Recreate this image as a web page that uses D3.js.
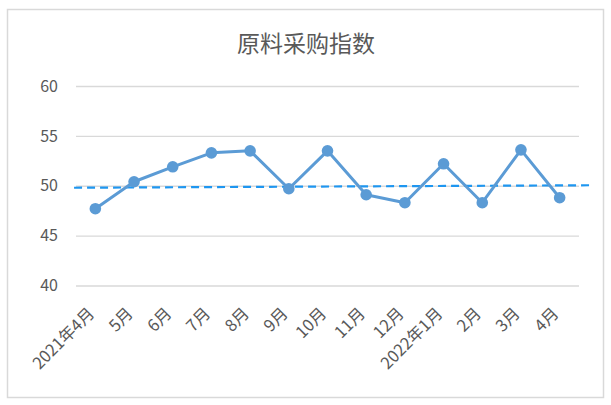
<!DOCTYPE html>
<html><head><meta charset="utf-8">
<script src="https://cdn.jsdelivr.net/npm/d3@7"></script>
<style>
html,body{margin:0;padding:0;background:#fff;}
svg text{font-family:"Noto Sans CJK SC","Noto Sans",sans-serif;fill:#595959;}
</style></head>
<body>
<svg id="c" width="611" height="405"></svg>
<script>
const title = "原料采购指数";
const categories = ["2021年4月","5月","6月","7月","8月","9月","10月","11月","12月","2022年1月","2月","3月","4月"];
const values = [47.7,50.4,51.9,53.3,53.5,49.7,53.5,49.1,48.3,52.2,48.3,53.6,48.8];
const yTicks = [40,45,50,55,60];
// dashed trend line: category-index position and value at each end
const trendIndex = [-0.55, 12.78];
const trendValue = [49.8, 50.05];

const svg = d3.select("#c");
const plot = {left:76, right:579, top:86, bottom:285.5};

svg.append("rect").attr("x",7.5).attr("y",9.5).attr("width",596).attr("height",388)
  .attr("fill","#fff").attr("stroke","#d9d9d9").attr("stroke-width",1.5);

svg.append("text").attr("x",306).attr("y",52).attr("text-anchor","middle")
  .style("font-size","23px").text(title);

const x = d3.scaleBand().domain(categories).range([plot.left, plot.right]);
const xi = d3.scaleLinear().domain([0, categories.length-1])
  .range([x(categories[0])+x.bandwidth()/2, x(categories[categories.length-1])+x.bandwidth()/2]);
const y = d3.scaleLinear().domain([40,60]).range([plot.bottom, plot.top]);

// gridlines
const yAxis = d3.axisLeft(y).tickValues(yTicks).tickSize(-(plot.right-plot.left)).tickPadding(18);
const gy = svg.append("g").attr("transform",`translate(${plot.left},0)`).call(yAxis);
gy.select(".domain").remove();
gy.selectAll(".tick line").attr("stroke","#d9d9d9").attr("stroke-width",1.3);
gy.selectAll(".tick text").style("font-size","16px").attr("fill","#595959");

// x labels
const xAxis = d3.axisBottom(x).tickSize(0).tickPadding(0);
const gx = svg.append("g").attr("transform",`translate(0,${plot.bottom})`).call(xAxis);
gx.select(".domain").remove();
gx.selectAll(".tick text")
  .style("font-size","16.5px")
  .attr("text-anchor","end")
  .attr("transform","translate(0,29) rotate(-45)")
  .attr("dy","0").attr("y",0).attr("x",0);

// trend line
svg.append("line")
  .attr("x1", xi(trendIndex[0])).attr("y1", y(trendValue[0]))
  .attr("x2", xi(trendIndex[1])).attr("y2", y(trendValue[1]))
  .attr("stroke","#1E96F0").attr("stroke-width",2.2).attr("stroke-dasharray","8,5");

// series line
const line = d3.line().x((d,i)=>xi(i)).y(d=>y(d));
svg.append("path").datum(values).attr("d",line)
  .attr("fill","none").attr("stroke","#5B9BD5").attr("stroke-width",3)
  .attr("stroke-linejoin","round");
svg.selectAll("circle.pt").data(values).enter().append("circle")
  .attr("class","pt").attr("cx",(d,i)=>xi(i)).attr("cy",d=>y(d)).attr("r",5.8)
  .attr("fill","#5B9BD5");
</script>
</body></html>
